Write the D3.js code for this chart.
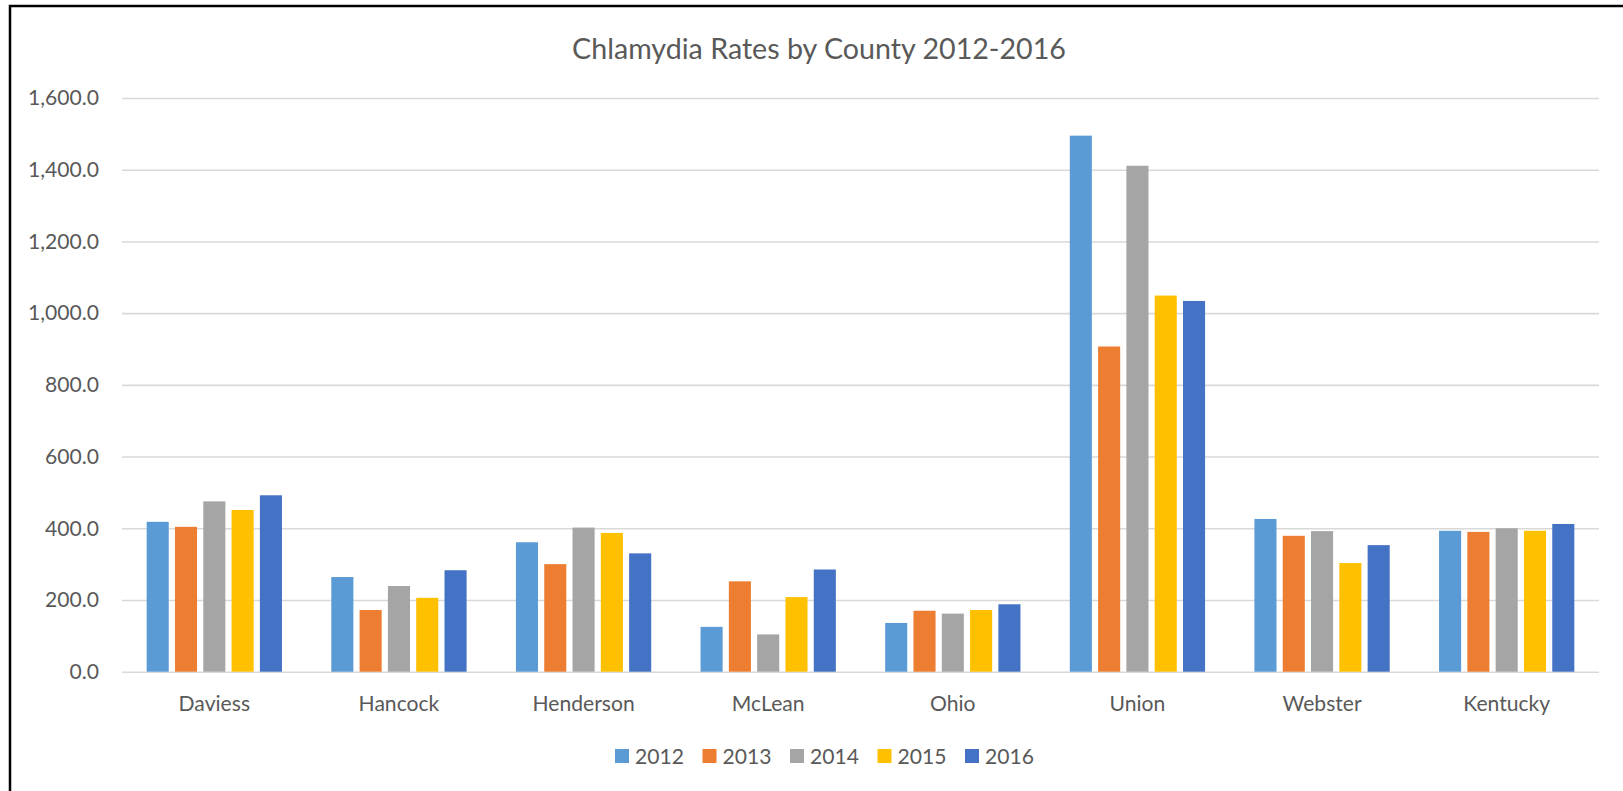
<!DOCTYPE html>
<html>
<head>
<meta charset="utf-8">
<script src="https://cdn.jsdelivr.net/npm/d3@7"></script>
<style>
	body { margin: 0; background: #fff; }
	svg { display: block; }
</style>
</head>
<body>
<div id="chart"></div>
<script>
	// data
	var counties = ["Daviess", "Hancock", "Henderson", "McLean", "Ohio", "Union", "Webster", "Kentucky"];
	var years = ["2012", "2013", "2014", "2015", "2016"];
	var rates2012 = [418, 264, 361, 125, 136, 1495, 426, 393];
	var rates2013 = [404, 172, 300, 252, 170, 907, 379, 390];
	var rates2014 = [475, 239, 402, 104, 162, 1411, 392, 400];
	var rates2015 = [451, 206, 387, 208, 172, 1049, 303, 393];
	var rates2016 = [492, 283, 330, 285, 188, 1034, 353, 412];
	var yTicks = [0, 200, 400, 600, 800, 1000, 1200, 1400, 1600];
	var colors = ["#5B9BD5", "#ED7D31", "#A5A5A5", "#FFC000", "#4472C4"];

	var series = [rates2012, rates2013, rates2014, rates2015, rates2016];
	var W = 1623, H = 791;
	var font = "Lato, 'Open Sans', sans-serif";
	var textColor = "#595959";

	var svg = d3.select("#chart").append("svg")
		.attr("width", W).attr("height", H);

	// outer frame (only left and top edges show in the picture)
	svg.append("rect").attr("x", 10).attr("y", 6)
		.attr("width", W + 50).attr("height", H + 50)
		.attr("fill", "none").attr("stroke", "#000").attr("stroke-width", 2.5);

	// fit a font size so that a sample string gets a given width
	function fitSize(sample, target) {
		var t = svg.append("text").text(sample)
			.attr("font-family", font).attr("font-size", 20);
		var w = t.node().getComputedTextLength();
		t.remove();
		return 20 * target / w;
	}
	var labelSize = fitSize("1,600.0", 71);
	var titleSize = fitSize("Chlamydia Rates by County 2012-2016", 494);

	var plotLeft = 122, plotRight = 1599, plotTop = 98, plotBottom = 671.7;

	var y = d3.scaleLinear().domain([0, 1600]).range([plotBottom, plotTop]);
	var x0 = d3.scaleBand().domain(counties).range([plotLeft, plotRight])
		.paddingInner(0.2335).paddingOuter(0.11675);
	var x1 = d3.scaleBand().domain(years).range([0, x0.bandwidth()])
		.paddingInner(0.22).paddingOuter(0.11);

	// title
	svg.append("text").text("Chlamydia Rates by County 2012-2016")
		.attr("x", 819).attr("y", 59)
		.attr("text-anchor", "middle")
		.attr("font-family", font).attr("font-size", titleSize)
		.attr("fill", textColor);

	// gridlines + y labels
	var yAxis = d3.axisLeft(y).tickValues(yTicks)
		.tickSize(-(plotRight - plotLeft)).tickPadding(23)
		.tickFormat(d3.format(",.1f"));
	var ga = svg.append("g").attr("transform", "translate(" + plotLeft + ",0)").call(yAxis);
	ga.select(".domain").remove();
	ga.selectAll(".tick line").attr("stroke", "#D9D9D9").attr("stroke-width", 1.6);
	ga.selectAll(".tick text").attr("font-family", font).attr("font-size", labelSize)
		.attr("fill", textColor);

	// bars
	var rows = counties.map(function(c, i) {
		return { county: c, values: years.map(function(yr, j) {
			return { year: yr, idx: j, value: series[j][i] };
		}) };
	});
	svg.append("g").selectAll("g").data(rows).enter().append("g")
		.attr("transform", function(d) { return "translate(" + x0(d.county) + ",0)"; })
		.selectAll("rect").data(function(d) { return d.values; }).enter().append("rect")
		.attr("x", function(d) { return x1(d.year); })
		.attr("width", x1.bandwidth())
		.attr("y", function(d) { return y(d.value); })
		.attr("height", function(d) { return y(0) - y(d.value); })
		.attr("fill", function(d) { return colors[d.idx]; });

	// category labels
	var xAxis = d3.axisBottom(x0).tickSize(0).tickPadding(0);
	var gx = svg.append("g").attr("transform", "translate(0," + plotBottom + ")").call(xAxis);
	gx.select(".domain").remove();
	gx.selectAll(".tick text").attr("font-family", font).attr("font-size", labelSize)
		.attr("fill", textColor).attr("dy", null).attr("y", 39);

	// legend
	var legendX = [615, 702.5, 790, 877.5, 965];
	var lg = svg.append("g").selectAll("g").data(years).enter().append("g")
		.attr("transform", function(d, i) { return "translate(" + legendX[i] + ",749)"; });
	lg.append("rect").attr("width", 14).attr("height", 14)
		.attr("fill", function(d, i) { return colors[i]; });
	lg.append("text").text(function(d) { return d; })
		.attr("x", 20).attr("y", 15)
		.attr("font-family", font).attr("font-size", labelSize)
		.attr("fill", textColor);
</script>
</body>
</html>
